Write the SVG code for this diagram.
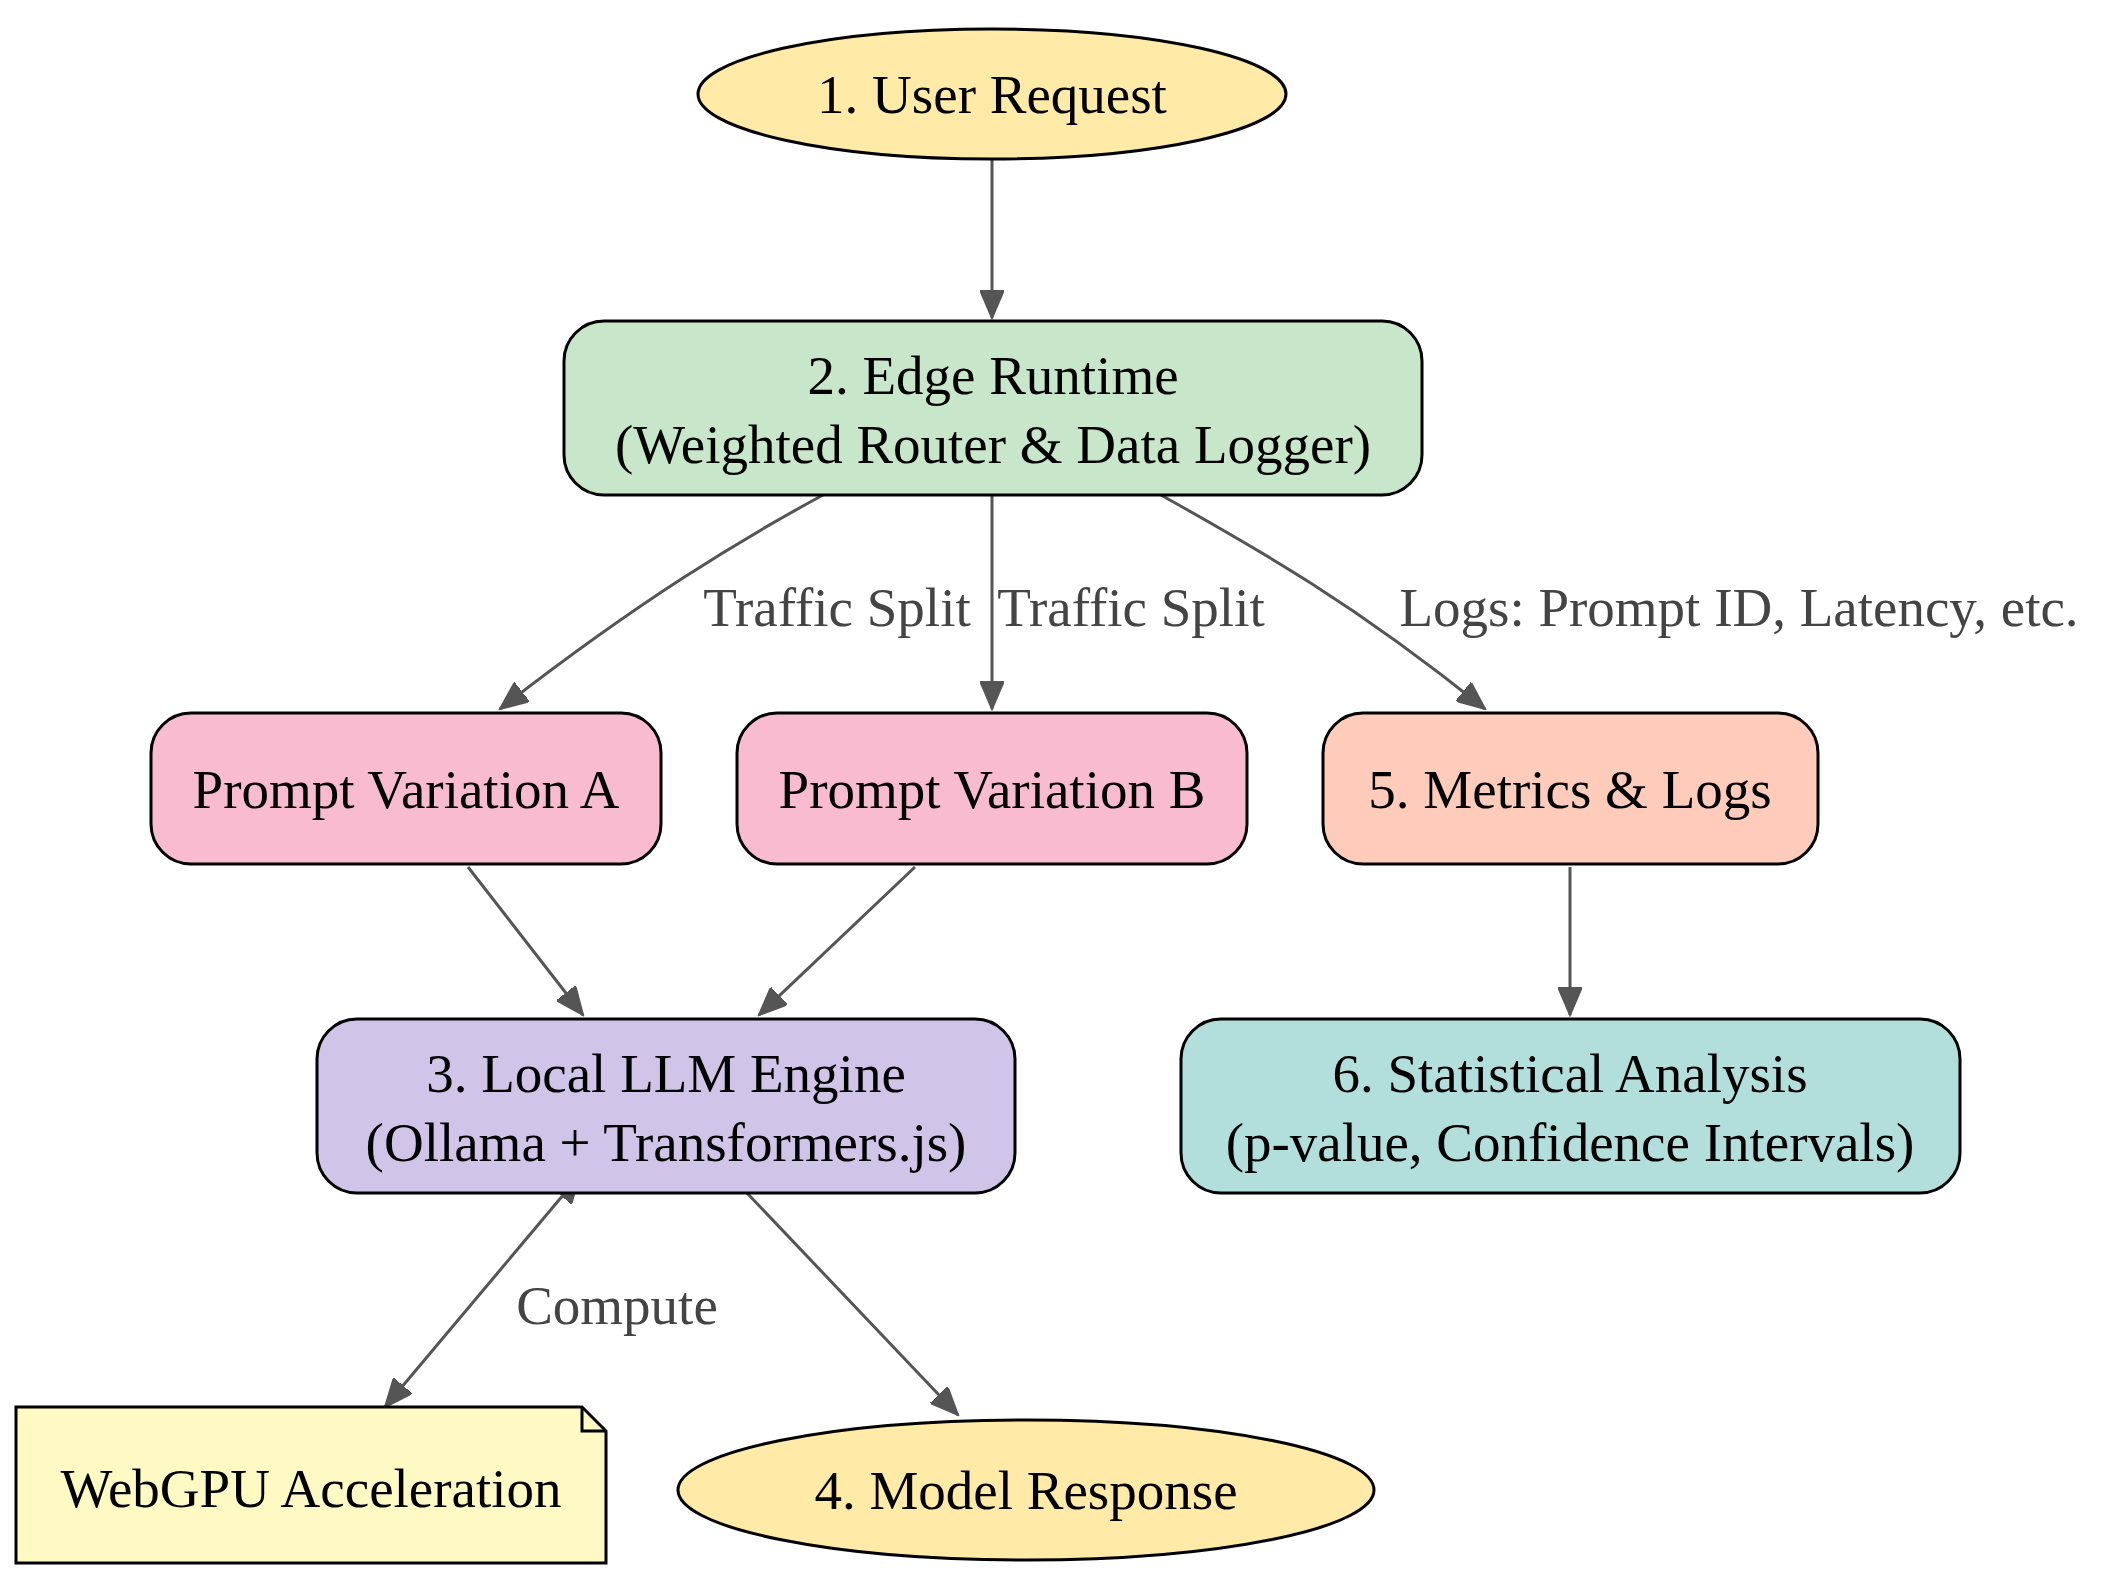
<svg xmlns="http://www.w3.org/2000/svg" width="2106" height="1571" viewBox="0 0 2106 1571">
<style>
.n{stroke:#000;stroke-width:3}
.t{font-family:"Liberation Serif",serif;font-size:55px;fill:#000;text-anchor:middle}
.l{font-family:"Liberation Serif",serif;font-size:55px;fill:#444;text-anchor:middle}
.e{fill:none;stroke:#555;stroke-width:3}
</style>
<defs>
<marker id="a" markerUnits="userSpaceOnUse" markerWidth="30" markerHeight="24" refX="28" refY="12" orient="auto-start-reverse">
<path d="M0,0 L28,12 L0,24 Z" fill="#555" stroke="#555" stroke-width="2"/>
</marker>
</defs>
<rect width="2106" height="1571" fill="#fff"/>
<g id="connectors">
<path class="e" d="M992,160 L992,318" marker-end="url(#a)"/>
<path class="e" d="M823,495 C740,540 640,600 500,709" marker-end="url(#a)"/>
<path class="e" d="M992,495 L992,709" marker-end="url(#a)"/>
<path class="e" d="M1161,495 C1250,545 1350,600 1485,709" marker-end="url(#a)"/>
<path class="e" d="M468,867 L583,1015" marker-end="url(#a)"/>
<path class="e" d="M915,867 L759,1015" marker-end="url(#a)"/>
<path class="e" d="M1570,867 L1570,1015" marker-end="url(#a)"/>
<path class="e" d="M580,1175 L385,1407" marker-start="url(#a)" marker-end="url(#a)"/>
<path class="e" d="M747,1193 L958,1415" marker-end="url(#a)"/>
<text class="l" x="837" y="626">Traffic Split</text>
<text class="l" x="1131" y="626">Traffic Split</text>
<text class="l" x="1739" y="626">Logs: Prompt ID, Latency, etc.</text>
<text class="l" x="617" y="1324">Compute</text>
</g>
<g id="n1"><ellipse class="n" cx="992" cy="94" rx="294" ry="65" fill="#ffeaa7"/><text class="t" x="992" y="113">1. User Request</text></g>
<g id="n2"><rect class="n" x="564" y="321" width="858" height="174" rx="40" fill="#c8e6c9"/><text class="t" x="993" y="394">2. Edge Runtime</text><text class="t" x="993" y="463">(Weighted Router &amp; Data Logger)</text></g>
<g id="nA"><rect class="n" x="151" y="713" width="510" height="151" rx="40" fill="#f8bbd0"/><text class="t" x="406" y="808">Prompt Variation A</text></g>
<g id="nB"><rect class="n" x="737" y="713" width="510" height="151" rx="40" fill="#f8bbd0"/><text class="t" x="992" y="808">Prompt Variation B</text></g>
<g id="n5"><rect class="n" x="1323" y="713" width="495" height="151" rx="40" fill="#ffccbc"/><text class="t" x="1570" y="808">5. Metrics &amp; Logs</text></g>
<g id="n3"><rect class="n" x="317" y="1019" width="698" height="174" rx="40" fill="#d1c4e9"/><text class="t" x="666" y="1092">3. Local LLM Engine</text><text class="t" x="666" y="1161">(Ollama + Transformers.js)</text></g>
<g id="n6"><rect class="n" x="1181" y="1019" width="779" height="174" rx="40" fill="#b2dfdb"/><text class="t" x="1570" y="1092">6. Statistical Analysis</text><text class="t" x="1570" y="1161">(p-value, Confidence Intervals)</text></g>
<g id="nW"><path class="n" d="M16,1407 L582,1407 L606,1431 L606,1563 L16,1563 Z" fill="#fff9c4"/><path class="n" d="M582,1407 L582,1431 L606,1431" fill="none"/><text class="t" x="311" y="1507">WebGPU Acceleration</text></g>
<g id="n4"><ellipse class="n" cx="1026" cy="1490" rx="348" ry="70" fill="#ffeaa7"/><text class="t" x="1026" y="1509">4. Model Response</text></g>
</svg>
